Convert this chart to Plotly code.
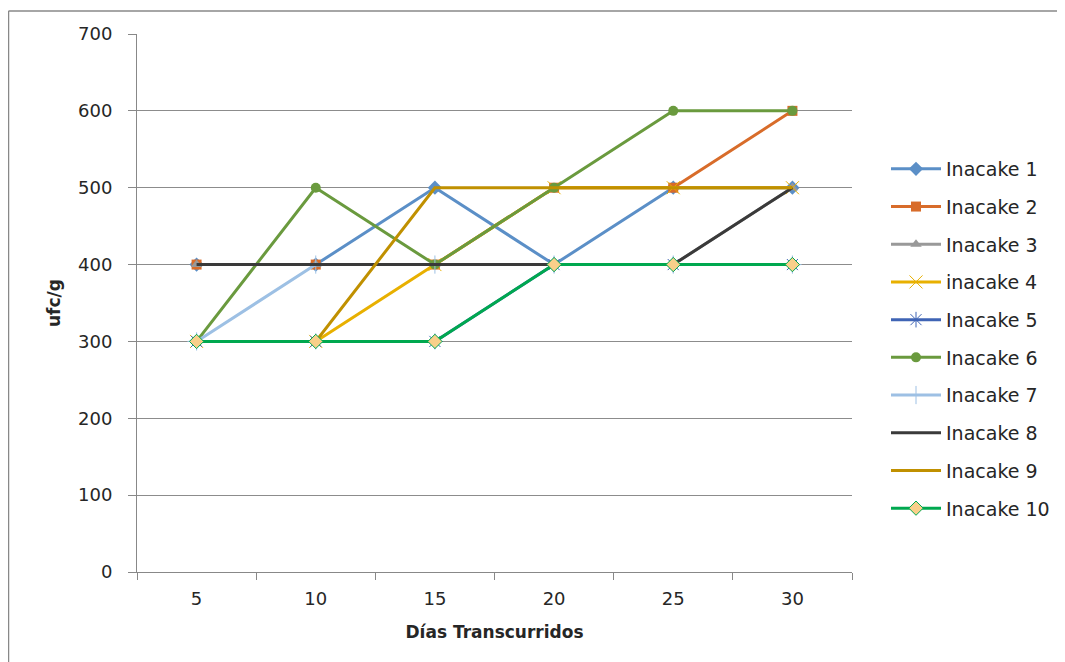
import plotly.graph_objects as go

days = ["5", "10", "15", "20", "25", "30"]
names = ["Inacake 1", "Inacake 2", "Inacake 3", "inacake 4", "Inacake 5",
         "Inacake 6", "Inacake 7", "Inacake 8", "Inacake 9", "Inacake 10"]
s1 = [400, 400, 500, 400, 500, 500]
s2 = [400, 400, 400, 500, 500, 600]
s3 = [400, 400, 400, 400, 400, 500]
s4 = [300, 300, 400, 500, 500, 500]
s5 = [300, 300, 300, 400, 400, 400]
s6 = [300, 500, 400, 500, 600, 600]
s7 = [300, 400, 400, 400, 400, 400]
s8 = [400, 400, 400, 400, 400, 500]
s9 = [300, 300, 500, 500, 500, 500]
s10 = [300, 300, 300, 400, 400, 400]
series = [s1, s2, s3, s4, s5, s6, s7, s8, s9, s10]

colors = ["#5B8FC7", "#D86C2A", "#999999", "#E8B000", "#3F64B5",
          "#6A9A3E", "#9DC0E4", "#3A3A3A", "#C09000", "#00A84F"]
symbols = ["diamond", "square", "triangle-up", "x-thin", "asterisk",
           "circle", "cross-thin", None, None, "diamond"]

FONT = "DejaVu Sans, Verdana, sans-serif"
TXT = "#262626"

fig = go.Figure()
for i, (n, s) in enumerate(zip(names, series)):
    sym = symbols[i]
    mode = "lines+markers" if sym else "lines"
    marker = dict(color=colors[i], size=10)
    if sym:
        marker["symbol"] = sym
        if sym in ("x-thin", "asterisk", "cross-thin"):
            marker["line"] = dict(color=colors[i], width=1)
            marker["size"] = 13
        if i == 9:
            marker["color"] = "#F9CF8A"
            marker["line"] = dict(color="#00A84F", width=1)
            marker["size"] = 11
        if sym == "diamond" and i == 0:
            marker["size"] = 11
    fig.add_trace(go.Scatter(
        x=days, y=s, name=n, mode=mode, legendgroup=n,
        line=dict(color=colors[i], width=3), marker=marker))

L, T, W, H = 129, 26, 715, 538
fig.update_layout(
    width=1065, height=662,
    margin=dict(l=L, r=1065 - L - W, t=T, b=662 - T - H, autoexpand=False),
    paper_bgcolor="white", plot_bgcolor="white",
    font=dict(family=FONT, color=TXT, size=18),
    showlegend=True,
    legend=dict(x=(878 - L) / W, xanchor="left", y=1 - (142 - T) / H, yanchor="top",
                traceorder="grouped", tracegroupgap=10, itemwidth=50,
                font=dict(size=19, family=FONT, color=TXT)),
    xaxis=dict(type="category", range=[-0.5, 5.5], tickson="boundaries",
               showgrid=False, showline=True, linecolor="#888888", linewidth=1,
               ticks="outside", ticklen=7, tickcolor="#888888",
               tickfont=dict(size=18), ticklabelstandoff=10,
               title=dict(text="<b>Días Transcurridos</b>", font=dict(size=17), standoff=18)),
    yaxis=dict(range=[0, 700], dtick=100, showgrid=True, gridcolor="#8C8C8C",
               gridwidth=1, showline=True, linecolor="#888888", linewidth=1,
               ticks="outside", ticklen=8, tickcolor="#888888", zeroline=False,
               tickfont=dict(size=18), ticklabelstandoff=12,
               title=dict(text="<b>ufc/g</b>", font=dict(size=17), standoff=13)),
    shapes=[dict(type="line", xref="paper", yref="paper",
                 x0=(0.5 - L) / W, x1=(1065 - L) / W, y0=1 + (T - 3) / H, y1=1 + (T - 3) / H,
                 line=dict(color="#888888", width=1.5)),
            dict(type="line", xref="paper", yref="paper",
                 x0=(0.5 - L) / W, x1=(0.5 - L) / W, y0=1 + (T - 3) / H, y1=-(662 - T - H) / H,
                 line=dict(color="#888888", width=1.5))],
)
fig.write_html("out.html")
